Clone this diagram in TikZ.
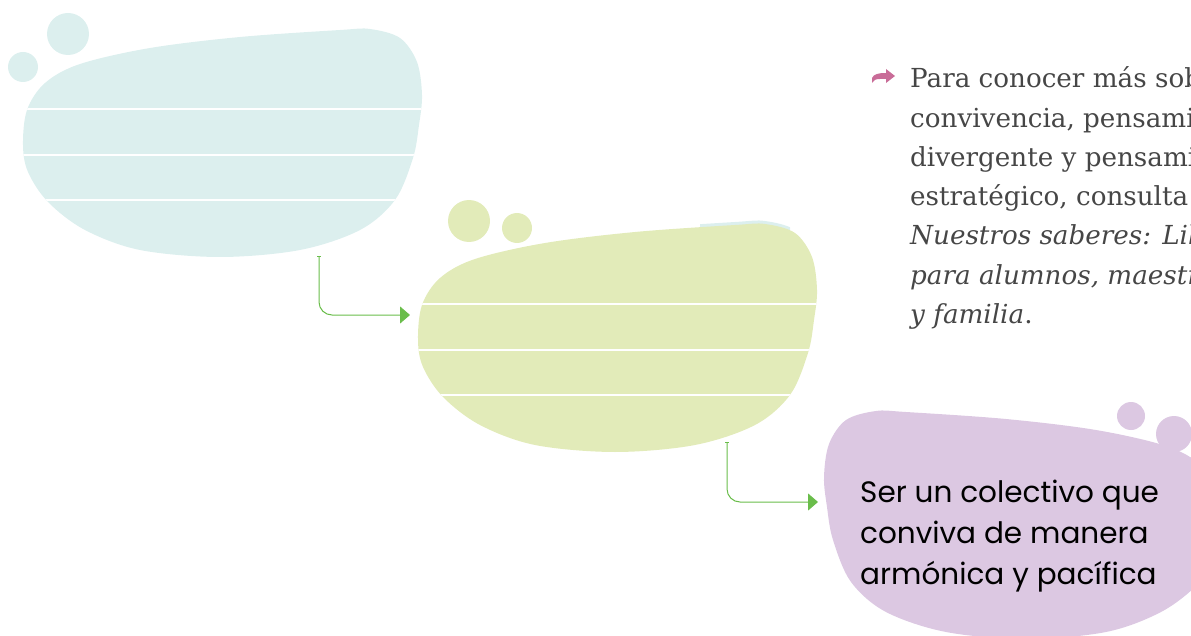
\documentclass[tikz,border=0pt]{standalone}
\usepackage{fontspec}
\setmainfont{DejaVu Serif}
\newfontfamily\handfont{Poppins}
\usetikzlibrary{arrows.meta}
\definecolor{blobblue}{RGB}{220,239,238}
\definecolor{blobgreen}{RGB}{226,235,185}
\definecolor{blobpurple}{RGB}{220,200,226}
\definecolor{conngreen}{RGB}{106,189,75}
\definecolor{iconpink}{RGB}{201,108,152}
\definecolor{textgray}{RGB}{70,70,70}
\def\blobshape{plot[smooth cycle, tension=0.55] coordinates {(23,145) (27,110) (45,83) (80,64) (150,48) (240,37) (340,30) (370,29) (400,38) (417,62) (422,95) (419,125) (413,158) (395,200) (360,230) (300,250) (220,257) (140,250) (85,230) (48,202) (28,172)}}
\tikzset{
  ruled/.style={white, line width=1.2pt},
  conn/.style={draw=conngreen, line width=1pt, rounded corners=13pt,
    {Bar[width=4pt,line width=0.8pt]}-{Triangle[length=10pt,width=17pt]}},
  rtext/.style={anchor=base west, inner sep=0pt, font=\fontsize{26.2}{32}\selectfont, text=textgray},
  htext/.style={anchor=base west, inner sep=0pt, font=\handfont\fontsize{29.5}{36}\selectfont, text=black}
}
\begin{document}
\begin{tikzpicture}[x=1pt, y=-1pt]
\useasboundingbox (0,0) rectangle (1191,636);
\clip (0,0) rectangle (1191,636);
% blue blob
\fill[blobblue] (68,34) circle (21);
\fill[blobblue] (23,67) circle (15);
\begin{scope}
  \fill[blobblue] \blobshape;
  \clip \blobshape;
  \foreach \yy in {109,155,200} \draw[ruled] (0,\yy) -- (450,\yy);
\end{scope}
% faint cyan sliver behind green blob
\begin{scope}
  \clip (700,210) rectangle (790,240);
  \begin{scope}[shift={(395,192)}]
    \fill[blobblue] \blobshape;
  \end{scope}
\end{scope}
% green blob
\fill[blobgreen] (469,221) circle (21);
\fill[blobgreen] (517,228) circle (15);
\begin{scope}[shift={(395,195)}]
  \fill[blobgreen] \blobshape;
  \clip \blobshape;
  \foreach \yy in {109,155,200} \draw[ruled] (0,\yy) -- (450,\yy);
\end{scope}
% purple blob
\fill[blobpurple] (1131,416) circle (14);
\fill[blobpurple] (1174,434) circle (18);
\begin{scope}[shift={(1246,382)}, xscale=-1]
  \fill[blobpurple] \blobshape;
\end{scope}
\node[htext] (p1) at (860,502) {Ser un colectivo que};
\node[htext] (p2) at (860,543) {conviva de manera};
\node[htext] (p3) at (860,584) {armónica y pacífica};
% connectors
\coordinate (s1) at (319,256);
\coordinate (e1) at (410,315);
\draw[conn] (s1) |- (e1);
\coordinate (s2) at (727,442);
\coordinate (e2) at (818,502);
\draw[conn] (s2) |- (e2);
% icon
\fill[iconpink] (872,83) -- (872,78) .. controls (874,74) and (878,73) .. (886,73) -- (886,69) -- (895,76) -- (886,83) -- (886,79) -- (880,79) .. controls (876,79) and (873,80) .. (872,83) -- cycle;
% right text
\node[rtext] (t1) at (910,88) {Para conocer más sobre};
\node[rtext] (t2) at (910,127.2) {convivencia, pensamiento};
\node[rtext] (t3) at (910,166.4) {divergente y pensamiento};
\node[rtext] (t4) at (910,205.6) {estratégico, consulta};
\node[rtext] (t5) at (910,244.8) {\textit{Nuestros saberes: Libro}};
\node[rtext] (t6) at (910,284) {\textit{para alumnos, maestros}};
\node[rtext] (t7) at (910,323.2) {\textit{y familia}.};
\end{tikzpicture}
\end{document}
